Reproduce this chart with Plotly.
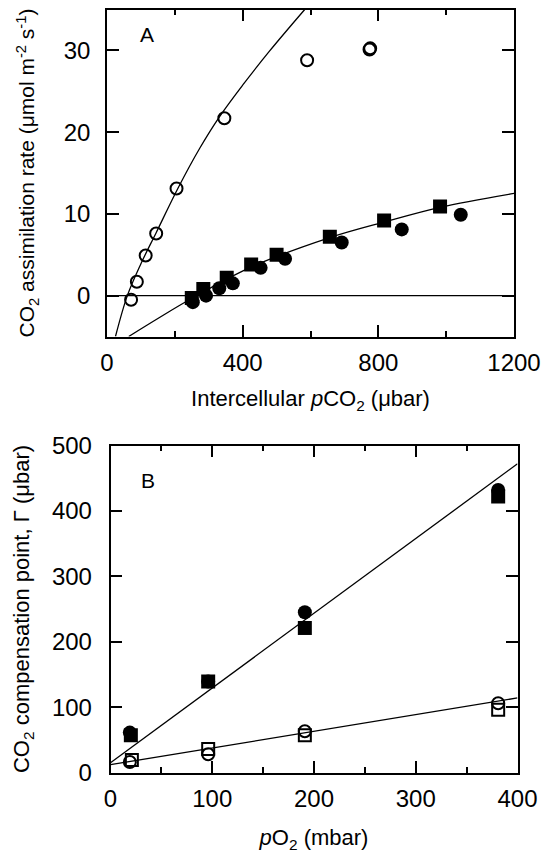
import plotly.graph_objects as go

# ---------------- Panel A data ----------------
a_open_x = [71, 88, 114, 145, 205, 346, 590, 774, 776]
a_open_y = [-0.5, 1.7, 4.9, 7.6, 13.1, 21.7, 28.8, 30.1, 30.25]

a_sq_x = [250, 284, 353, 425, 500, 657, 817, 982]
a_sq_y = [-0.3, 0.8, 2.2, 3.8, 5.0, 7.2, 9.2, 10.9]

a_ci_x = [253, 292, 331, 371, 453, 525, 692, 869, 1043]
a_ci_y = [-0.8, 0.0, 0.9, 1.5, 3.4, 4.5, 6.5, 8.1, 9.9]

# fitted curves
a_fit1_x = [25, 60, 100, 145, 210, 273, 332, 401, 479, 583]
a_fit1_y = [-5.0, 0.0, 3.9, 7.7, 13.2, 18.0, 21.9, 25.8, 29.9, 35.0]

a_fit2_x = [64, 150, 239, 420, 657, 817, 982, 1200]
a_fit2_y = [-5.0, -2.8, -0.6, 3.4, 7.1, 9.0, 10.8, 12.5]

a_zero_x = [0, 1200]
a_zero_y = [0, 0]

# ---------------- Panel B data ----------------
b_ci_x = [19, 96, 191, 381]
b_ci_y = [61, 139, 245, 432]

b_sq_x = [20, 96, 191, 381]
b_sq_y = [57, 139, 221, 422]

b_oci_x = [19, 96, 191, 381]
b_oci_y = [16, 28, 63, 106]

b_osq_x = [21, 96, 191, 381]
b_osq_y = [19, 36, 57, 96]

b_line_x = [0, 400]
b_fit_closed_y = [15, 472]
b_fit_open_y = [12, 114]

FONT = "Liberation Sans, Arial, Helvetica, sans-serif"

fig = go.Figure()

line_style = dict(color="black", width=1.3)

# Panel A
fig.add_trace(go.Scatter(x=a_zero_x, y=a_zero_y, mode="lines", line=dict(color="black", width=1.4),
                         xaxis="x", yaxis="y", showlegend=False, hoverinfo="skip"))
fig.add_trace(go.Scatter(x=a_fit1_x, y=a_fit1_y, mode="lines", line=dict(shape="spline", smoothing=1, **line_style),
                         xaxis="x", yaxis="y", showlegend=False))
fig.add_trace(go.Scatter(x=a_fit2_x, y=a_fit2_y, mode="lines", line=dict(shape="spline", smoothing=1, **line_style),
                         xaxis="x", yaxis="y", showlegend=False))
fig.add_trace(go.Scatter(x=a_open_x, y=a_open_y, mode="markers",
                         marker=dict(symbol="circle-open", size=12, color="black", line=dict(width=2, color="black")),
                         xaxis="x", yaxis="y", showlegend=False))
fig.add_trace(go.Scatter(x=a_sq_x, y=a_sq_y, mode="markers",
                         marker=dict(symbol="square", size=14, color="black"),
                         xaxis="x", yaxis="y", showlegend=False))
fig.add_trace(go.Scatter(x=a_ci_x, y=a_ci_y, mode="markers",
                         marker=dict(symbol="circle", size=14, color="black"),
                         xaxis="x", yaxis="y", showlegend=False))

# Panel B
fig.add_trace(go.Scatter(x=b_line_x, y=b_fit_closed_y, mode="lines", line=line_style,
                         xaxis="x2", yaxis="y2", showlegend=False))
fig.add_trace(go.Scatter(x=b_line_x, y=b_fit_open_y, mode="lines", line=line_style,
                         xaxis="x2", yaxis="y2", showlegend=False))
fig.add_trace(go.Scatter(x=b_osq_x, y=b_osq_y, mode="markers",
                         marker=dict(symbol="square-open", size=12, color="black", line=dict(width=2, color="black")),
                         xaxis="x2", yaxis="y2", showlegend=False))
fig.add_trace(go.Scatter(x=b_oci_x, y=b_oci_y, mode="markers",
                         marker=dict(symbol="circle-open", size=12, color="black", line=dict(width=2, color="black")),
                         xaxis="x2", yaxis="y2", showlegend=False))
fig.add_trace(go.Scatter(x=b_ci_x, y=b_ci_y, mode="markers",
                         marker=dict(symbol="circle", size=14, color="black"),
                         xaxis="x2", yaxis="y2", showlegend=False))
fig.add_trace(go.Scatter(x=b_sq_x, y=b_sq_y, mode="markers",
                         marker=dict(symbol="square", size=14, color="black"),
                         xaxis="x2", yaxis="y2", showlegend=False))

W, H = 547, 853


def axis(common_dom, rng, tickvals, minor_vals, title, standoff, anchor, labelstand, tsize=22):
    d = dict(
        domain=common_dom, range=rng, tickvals=tickvals,
        showline=True, linecolor="black", linewidth=1.5, mirror="allticks",
        ticks="inside", ticklen=12, tickwidth=1.5, tickcolor="black",
        showgrid=False, zeroline=False, anchor=anchor,
        tickfont=dict(size=24, color="black", family=FONT),
        ticklabelstandoff=labelstand,
        title=dict(text=title, font=dict(size=tsize, color="black", family=FONT), standoff=standoff),
        automargin=False, fixedrange=True,
    )
    if minor_vals:
        d["minor"] = dict(tickvals=minor_vals, ticks="inside", ticklen=6, tickwidth=1.5, tickcolor="black", showgrid=False)
    return d


xA = axis([107 / W, 514 / W], [0, 1200], [0, 400, 800, 1200], [200, 600, 1000],
          "Intercellular <i>p</i>CO<sub>2</sub> (μbar)", 16, "y", 4)
yA = axis([1 - 336.5 / H, 1 - 9.5 / H], [-5, 35], [0, 10, 20, 30], None,
          "CO<sub>2</sub> assimilation rate (μmol m<sup>-2</sup> s<sup>-1</sup>)", 23, "x", 10, tsize=21)
xB = axis([110.5 / W, 517.5 / W], [0, 400], [0, 100, 200, 300, 400], [50, 150, 250, 350],
          "<i>p</i>O<sub>2</sub> (mbar)", 24, "y2", 4)
yB = axis([1 - 772.5 / H, 1 - 445.5 / H], [0, 500], [0, 100, 200, 300, 400, 500], None,
          "CO<sub>2</sub> compensation point, Γ (μbar)", 16, "x2", 12)

fig.update_layout(
    width=W, height=H,
    margin=dict(l=0, r=0, t=0, b=0),
    paper_bgcolor="white", plot_bgcolor="white",
    font=dict(family=FONT, color="black", size=22),
    xaxis=xA, yaxis=yA, xaxis2=xB, yaxis2=yB,
    annotations=[
        dict(text="A", x=117, y=32, xref="x", yref="y", showarrow=False,
             font=dict(size=21, color="black", family=FONT)),
        dict(text="B", x=37, y=446, xref="x2", yref="y2", showarrow=False,
             font=dict(size=21, color="black", family=FONT)),
    ],
)

fig.write_html("out.html")
